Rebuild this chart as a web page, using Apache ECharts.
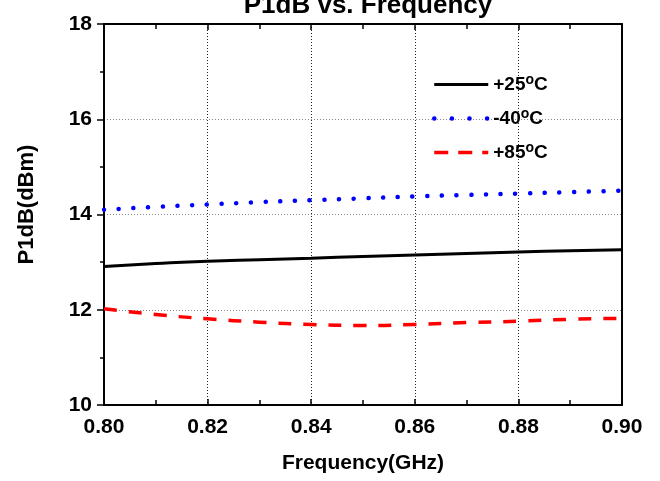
<!DOCTYPE html>
<html>
<head>
<meta charset="utf-8">
<script src="https://cdn.jsdelivr.net/npm/echarts@6/dist/echarts.min.js"></script>
<style>
  html, body { margin: 0; padding: 0; background: #fff; }
  #chart { width: 660px; height: 481px; }
</style>
</head>
<body>
<div id="chart"></div>
<script>
// frequency points (GHz)
const freq = [0.80, 0.81, 0.82, 0.83, 0.84, 0.85, 0.86, 0.87, 0.88, 0.89, 0.90];
// P1dB (dBm) per temperature
const p25 = [12.91, 12.97, 13.02, 13.05, 13.08, 13.12, 13.15, 13.18, 13.21, 13.24, 13.26];
const pm40 = [14.10, 14.16, 14.21, 14.26, 14.30, 14.34, 14.38, 14.41, 14.44, 14.47, 14.50];
const p85 = [12.02, 11.90, 11.81, 11.74, 11.69, 11.67, 11.69, 11.73, 11.76, 11.80, 11.82];
const names = ["+25°C", "-40°C", "+85°C"];

const font = "'Liberation Sans', Arial, sans-serif";

const pairs = ys => freq.map((x, i) => [x, ys[i]]);

// line looks for the series
const styles = [
  { color: "#000", width: 3, type: "solid" },
  { color: "#0000ff", width: 4.5, type: [0.1, 14.6], cap: "round" },
  { color: "#ff0000", width: 3.5, type: [13, 12] }
];
// legend samples are short, so spread the dots a bit more
const legendStyles = [
  styles[0],
  { color: "#0000ff", width: 4.5, type: [0.1, 17.5], cap: "round" },
  { color: "#ff0000", width: 3.5, type: [14, 10] }
];

const chart = echarts.init(document.getElementById("chart"));

const option = {
  animation: false,
  title: {
    text: "P1dB vs. Frequency",
    left: 363,
    textAlign: "center",
    top: -12,
    textStyle: { fontFamily: font, fontWeight: "bold", fontSize: 26, color: "#000" }
  },
  grid: { left: 104, right: 38, top: 24, bottom: 76 },
  legend: {
    orient: "vertical",
    left: 427,
    top: 68,
    itemWidth: 54,
    itemHeight: 14,
    itemGap: 13,
    data: names.map((n, i) => ({ name: n, lineStyle: legendStyles[i] })),
    itemStyle: { opacity: 0 },
    formatter: name => "{t|" + name.replace("°C", "") + "}{s|o}{t|C}",
    textStyle: {
      fontFamily: font,
      fontWeight: "bold",
      fontSize: 19,
      color: "#000",
      rich: {
        t: { fontFamily: font, fontWeight: "bold", fontSize: 19, color: "#000" },
        s: { fontFamily: font, fontWeight: "bold", fontSize: 14, color: "#000", padding: [0, 0, 9, 0] }
      }
    }
  },
  xAxis: [
    {
      type: "value",
      min: 0.8,
      max: 0.9,
      interval: 0.02,
      name: "Frequency(GHz)",
      nameLocation: "middle",
      nameGap: 48,
      nameTextStyle: { fontFamily: font, fontWeight: "bold", fontSize: 21, color: "#000" },
      axisLine: { lineStyle: { color: "#000", width: 2 } },
      axisTick: { inside: true, length: 6, lineStyle: { color: "#000", width: 1.5 } },
      minorTick: { show: true, splitNumber: 2, length: 5, lineStyle: { color: "#000", width: 1.5 } },
      axisLabel: {
        margin: 12,
        fontFamily: font, fontWeight: "bold", fontSize: 21, color: "#000",
        formatter: v => v.toFixed(2)
      },
      splitLine: { show: true, lineStyle: { color: "#222", width: 1, type: [1, 2] } }
    },
    {
      type: "value",
      position: "top",
      min: 0.8,
      max: 0.9,
      interval: 0.02,
      axisLine: { lineStyle: { color: "#000", width: 2 } },
      axisTick: { inside: true, length: 6, lineStyle: { color: "#000", width: 1.5 } },
      minorTick: { show: true, splitNumber: 2, length: 5, lineStyle: { color: "#000", width: 1.5 } },
      axisLabel: { show: false },
      splitLine: { show: false }
    }
  ],
  yAxis: [
    {
      type: "value",
      min: 10,
      max: 18,
      interval: 2,
      name: "P1dB(dBm)",
      nameLocation: "middle",
      nameGap: 66,
      nameTextStyle: {
        fontFamily: font, fontWeight: "bold", fontSize: 22, color: "#000",
        padding: [0, 0, 0, 20]
      },
      axisLine: { lineStyle: { color: "#000", width: 2 } },
      axisTick: { length: 7, lineStyle: { color: "#000", width: 1.5 } },
      minorTick: { show: true, splitNumber: 2, length: 4, lineStyle: { color: "#000", width: 1.5 } },
      axisLabel: { margin: 12, fontFamily: font, fontWeight: "bold", fontSize: 21, color: "#000" },
      splitLine: { show: true, lineStyle: { color: "#888", width: 1, type: [1, 2] } }
    },
    {
      type: "value",
      position: "right",
      min: 10,
      max: 18,
      interval: 2,
      axisLine: { show: true, lineStyle: { color: "#000", width: 2 } },
      axisTick: { show: false },
      axisLabel: { show: false },
      splitLine: { show: false }
    }
  ],
  series: [
    {
      name: names[0],
      type: "line",
      data: pairs(p25),
      smooth: true,
      symbol: "none",
      lineStyle: styles[0],
      itemStyle: { color: styles[0].color }
    },
    {
      name: names[1],
      type: "line",
      data: pairs(pm40),
      smooth: true,
      symbol: "none",
      lineStyle: styles[1],
      itemStyle: { color: styles[1].color }
    },
    {
      name: names[2],
      type: "line",
      data: pairs(p85),
      smooth: true,
      symbol: "none",
      lineStyle: styles[2],
      itemStyle: { color: styles[2].color }
    }
  ]
};

chart.setOption(option);
</script>
</body>
</html>
